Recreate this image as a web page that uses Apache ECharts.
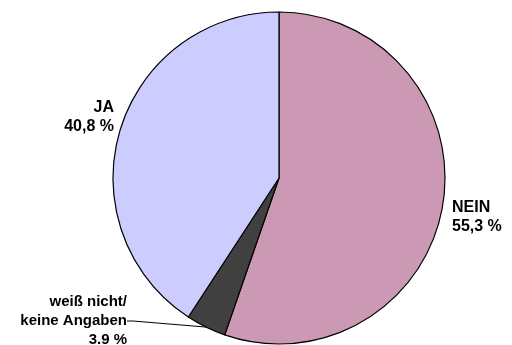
<!DOCTYPE html>
<html>
<head>
<meta charset="utf-8">
<script src="https://cdn.jsdelivr.net/npm/echarts@6/dist/echarts.min.js"></script>
<style>
  html, body { margin: 0; padding: 0; background: #ffffff; }
  #chart { width: 512px; height: 345px; }
</style>
</head>
<body>
<div id="chart"></div>
<script>
// Answer categories and their shares (percent)
const categories = ['NEIN', 'weiß nicht/\nkeine Angaben', 'JA'];
const shares = [55.3, 3.9, 40.8];
const shareText = ['55,3 %', '3.9 %', '40,8 %'];
const colors = ['#cc99b4', '#404040', '#ccccff'];

// label anchor points: [x, y, align, fontSize]
const labelSpots = [
  [452, 217, 'left', 16],
  [127, 321, 'right', 15],
  [114, 117, 'right', 16]
];

const chart = echarts.init(document.getElementById('chart'), null, { renderer: 'canvas' });

const data = categories.map((name, i) => ({
  name: name,
  value: shares[i],
  itemStyle: { color: colors[i] },
  label: { fontSize: labelSpots[i][3] },
  labelLine: { show: i === 1 }
}));

chart.setOption({
  animation: false,
  series: [{
    type: 'pie',
    center: [279, 178],
    radius: 166,
    startAngle: 90,
    clockwise: true,
    data: data,
    itemStyle: { borderColor: '#000000', borderWidth: 1.2 },
    label: {
      show: true,
      position: 'outside',
      overflow: 'none',
      formatter: (p) => p.name + '\n' + shareText[p.dataIndex],
      fontFamily: 'Liberation Sans, Arial, sans-serif',
      fontWeight: 'bold',
      color: '#000000',
      lineHeight: 19
    },
    labelLine: {
      show: false,
      length: 6,
      length2: 6,
      lineStyle: { color: '#000000', width: 1 }
    },
    labelLayout: (params) => {
      const s = labelSpots[params.dataIndex];
      return { x: s[0], y: s[1], align: s[2], verticalAlign: 'middle' };
    }
  }]
});
</script>
</body>
</html>
